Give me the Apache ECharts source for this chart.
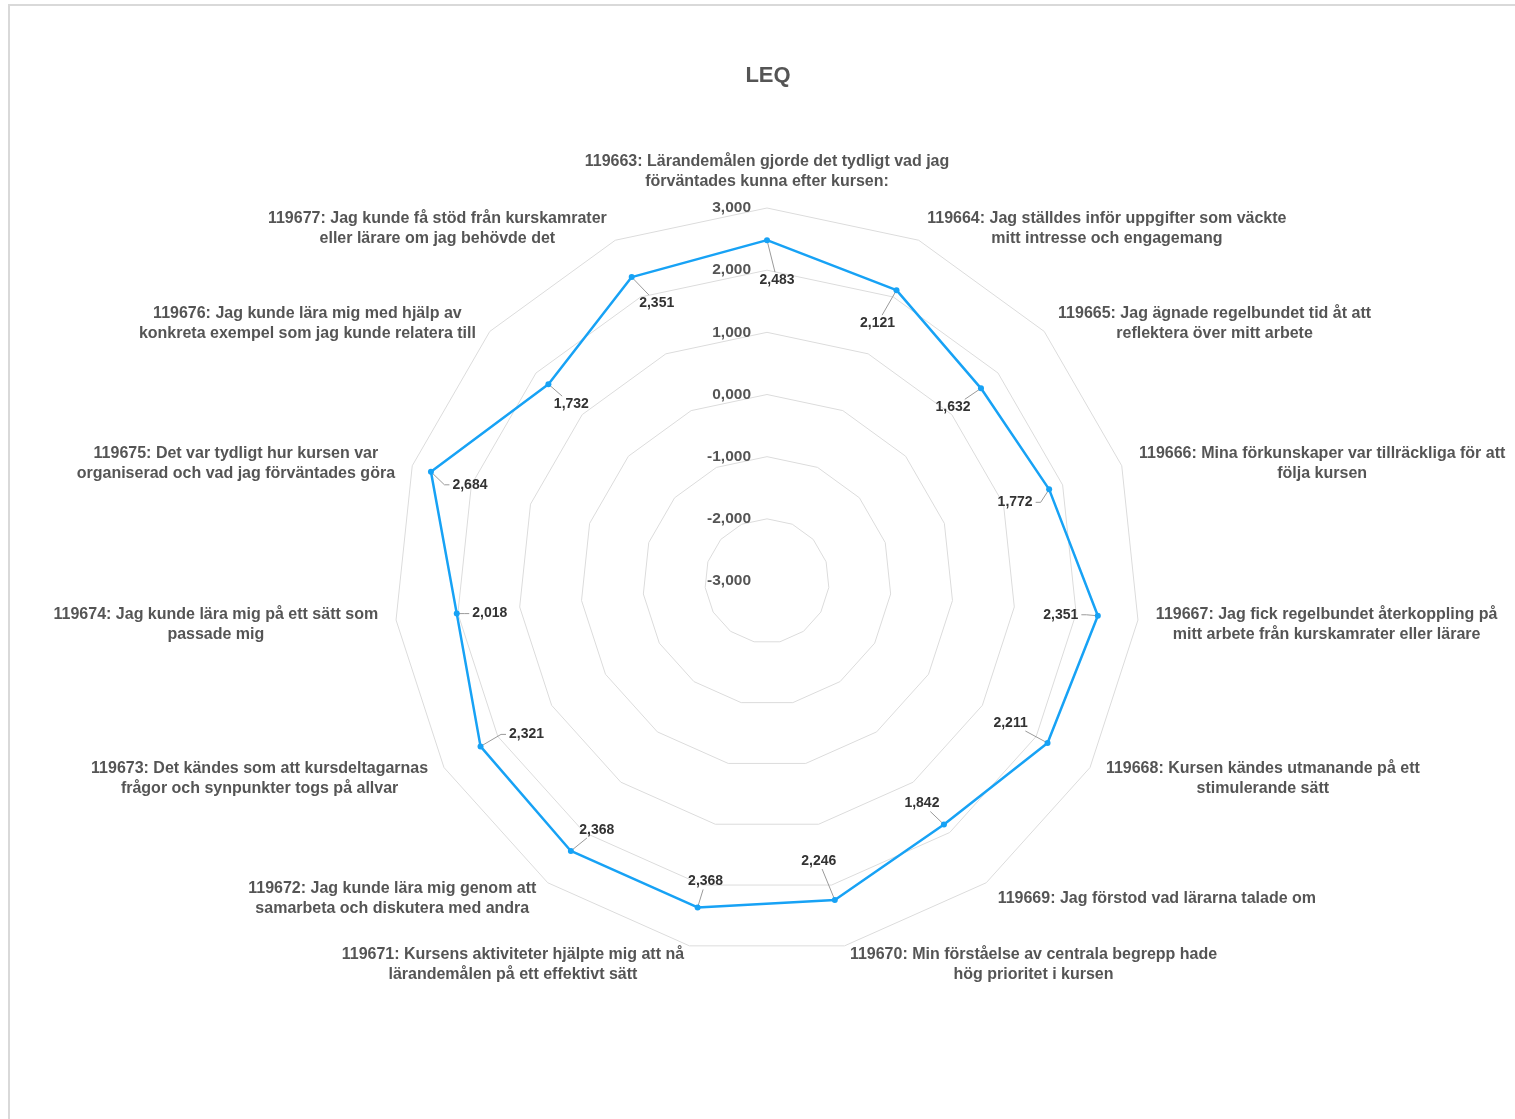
<!DOCTYPE html>
<html><head><meta charset="utf-8">
<script src="https://cdn.jsdelivr.net/npm/echarts@6/dist/echarts.min.js"></script>
<style>
html,body{margin:0;padding:0;background:#fff;overflow:hidden;}
#frame{position:absolute;left:8px;top:4px;width:1520px;height:1130px;border-top:2px solid #d9d9d9;border-left:2px solid #d9d9d9;}
#chart{position:absolute;left:0;top:0;width:1515px;height:1119px;}
</style></head><body>
<div id="frame"></div><div id="chart"></div>
<script>
const chartTitle = 'LEQ';
const categories = [
  '119663: Lärandemålen gjorde det tydligt vad jag\nförväntades kunna efter kursen:',
  '119664: Jag ställdes inför uppgifter som väckte\nmitt intresse och engagemang',
  '119665: Jag ägnade regelbundet tid åt att\nreflektera över mitt arbete',
  '119666: Mina förkunskaper var tillräckliga för att\nfölja kursen',
  '119667: Jag fick regelbundet återkoppling på\nmitt arbete från kurskamrater eller lärare',
  '119668: Kursen kändes utmanande på ett\nstimulerande sätt',
  '119669: Jag förstod vad lärarna talade om',
  '119670: Min förståelse av centrala begrepp hade\nhög prioritet i kursen',
  '119671: Kursens aktiviteter hjälpte mig att nå\nlärandemålen på ett effektivt sätt',
  '119672: Jag kunde lära mig genom att\nsamarbeta och diskutera med andra',
  '119673: Det kändes som att kursdeltagarnas\nfrågor och synpunkter togs på allvar',
  '119674: Jag kunde lära mig på ett sätt som\npassade mig',
  '119675: Det var tydligt hur kursen var\norganiserad och vad jag förväntades göra',
  '119676: Jag kunde lära mig med hjälp av\nkonkreta exempel som jag kunde relatera till',
  '119677: Jag kunde få stöd från kurskamrater\neller lärare om jag behövde det'
];
const values = [2.483, 2.121, 1.632, 1.772, 2.351, 2.211, 1.842, 2.246, 2.368, 2.368, 2.321, 2.018, 2.684, 1.732, 2.351];
const axisMin = -3;
const axisMax = 3;
const axisSplits = 6;

// label placement (style): offset of each value label centre from its point, px
const labelOffsets = [[10,40],[-19,33],[-28,19],[-34,13],[-37,-1],[-37,-20],[-22,-21],[-16,-39],[8,-26],[26,-21],[46,-12],[33,0],[39,13],[23,20],[25,26]];

const FONT = 'Liberation Sans, Arial, Helvetica, sans-serif';
const fmt = v => v.toFixed(3).replace('.', ',');
const lineColor = '#17a2f5';

// ECharts radar runs counter-clockwise; reorder so categories run clockwise from the top
const n = categories.length;
const order = categories.map((_, i) => (n - i) % n);
const posOf = k => order.indexOf(k);

const chart = echarts.init(document.getElementById('chart'));
chart.setOption({
  animation: false,
  backgroundColor: 'transparent',
  title: {
    text: chartTitle, left: 763, textAlign: 'center', top: 60,
    textStyle: {fontFamily: FONT, fontSize: 22, fontWeight: 'bold', color: '#555'}
  },
  radar: {
    center: [767, 581],
    radius: 373,
    startAngle: 90,
    splitNumber: axisSplits,
    shape: 'polygon',
    nameGap: 16,
    indicator: order.map((k, pos) => {
      const o = {name: categories[k], min: axisMin, max: axisMax};
      if (pos === 0) o.axisLabel = {show: true};
      return o;
    }),
    axisName: {
      color: '#555', fontFamily: FONT, fontSize: 16, fontWeight: 'bold', lineHeight: 20,
      padding: [6, 2, 0, 2],
      formatter: name => name.split('\n').map(l => '{c|' + l + '}').join('\n'),
      rich: {c: {align: 'center', color: '#555', fontFamily: FONT, fontSize: 16, fontWeight: 'bold', lineHeight: 20}}
    },
    axisLine: {show: false},
    axisTick: {show: false},
    splitArea: {show: false},
    splitLine: {lineStyle: {color: '#dcdcdc', width: 1}},
    axisLabel: {
      show: false, margin: 16, color: '#555', fontFamily: FONT, fontSize: 15.5, fontWeight: 'bold',
      padding: [3, 0, 0, 0],
      formatter: v => fmt(v)
    }
  },
  series: [{
    type: 'radar',
    symbol: 'circle',
    symbolSize: 6,
    lineStyle: {color: lineColor, width: 2.5},
    itemStyle: {color: lineColor},
    label: {show: false},
    data: [{value: order.map(k => values[k]), name: chartTitle}]
  }]
});

// value labels with leader lines, positioned through the radar coordinate system
const radarCS = chart.getModel().getComponent('radar', 0).coordinateSystem;
const ctx = document.createElement('canvas').getContext('2d');
const labelFont = 'bold 14px ' + FONT;
ctx.font = labelFont;
const graphics = [];
values.forEach((v, i) => {
  const p = radarCS.dataToPoint(v, posOf(i));
  const [dx, dy] = labelOffsets[i];
  const cx = p[0] + dx, cy = p[1] + dy;
  const txt = fmt(v);
  const w = ctx.measureText(txt).width / 2 + 3;
  const h = 8;
  const ux = -dx, uy = -dy;
  const tx = Math.abs(ux) > 0.001 ? w / Math.abs(ux) : Infinity;
  const ty = Math.abs(uy) > 0.001 ? h / Math.abs(uy) : Infinity;
  let pts;
  if (tx <= ty) {
    const sx = Math.sign(ux);
    pts = [[cx + sx * w, cy], [cx + sx * (w + 5), cy], [p[0], p[1]]];
  } else {
    const sy = Math.sign(uy);
    pts = [[cx + ux * ty, cy + sy * h], [p[0], p[1]]];
  }
  graphics.push({
    type: 'polyline', silent: true, z: 1,
    shape: {points: pts},
    style: {stroke: '#9a9a9a', lineWidth: 1, fill: null}
  });
  graphics.push({
    type: 'text', silent: true, z: 10, x: cx, y: cy,
    style: {text: txt, font: labelFont, fill: '#333', textAlign: 'center', textVerticalAlign: 'middle'}
  });
});
chart.setOption({graphic: {elements: graphics}});
</script>
</body></html>
